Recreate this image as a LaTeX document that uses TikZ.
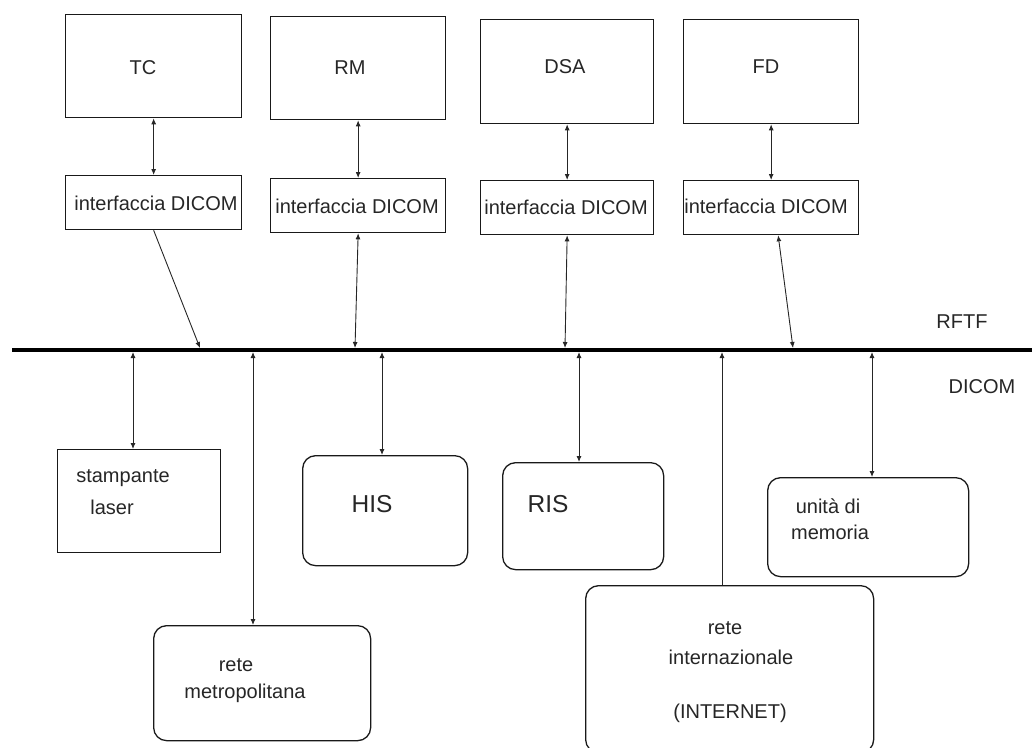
\documentclass[tikz,border=0pt]{standalone}
\usepackage{fontspec}
\setmainfont{Liberation Sans}
\usetikzlibrary{arrows.meta}
\begin{document}
\begin{tikzpicture}[x=1pt,y=-1pt,
  box/.style={draw=black!90, line width=1.3pt, inner sep=0pt, anchor=north west},
  rbox/.style={box, rounded corners=13pt},
  lbl/.style={inner sep=0pt, text=black!85, font=\fontsize{20}{24}\selectfont},
  big/.style={lbl, font=\fontsize{24.5}{29}\selectfont},
  link/.style={draw=black!85, line width=0.9pt},
  biarr/.style={link, {Latex[length=6pt,width=5pt]}-{Latex[length=6pt,width=5pt]}},
  toarr/.style={link, -{Latex[length=6pt,width=5pt]}},
  fromarr/.style={link, {Latex[length=6pt,width=5pt]}-}]
\useasboundingbox (0,0) rectangle (1032,747);
\clip (0,0) rectangle (1032,747);

% modalities
\node[box, minimum width=176pt, minimum height=103pt] (tc)  at (65,14) {};
\node[box, minimum width=175pt, minimum height=103pt] (rm)  at (270,16) {};
\node[box, minimum width=173pt, minimum height=104pt] (dsa) at (480,19) {};
\node[box, minimum width=175pt, minimum height=104pt] (fd)  at (683,19) {};
\node[lbl] (tct)  at (143,68) {TC};
\node[lbl] (rmt)  at (350,68) {RM};
\node[lbl] (dsat) at (565,67) {DSA};
\node[lbl] (fdt)  at (766,67) {FD};

% DICOM interfaces
\node[box, minimum width=176pt, minimum height=54pt] (tci)  at (65,175) {};
\node[box, minimum width=175pt, minimum height=54pt] (rmi)  at (270,178) {};
\node[box, minimum width=173pt, minimum height=54pt] (dsai) at (480,180) {};
\node[box, minimum width=175pt, minimum height=54pt] (fdi)  at (683,180) {};
\node[lbl] (tcit)  at (156,203) {interfaccia DICOM};
\node[lbl] (rmit)  at (357,206) {interfaccia DICOM};
\node[lbl] (dsait) at (566,207) {interfaccia DICOM};
\node[lbl] (fdit)  at (766,206) {interfaccia DICOM};

% devices on the network
\node[box,  minimum width=163pt, minimum height=103pt] (stamp) at (57,449) {};
\node[rbox, minimum width=165pt, minimum height=110pt] (his)   at (302,455) {};
\node[rbox, minimum width=161pt, minimum height=107pt] (ris)   at (502,462) {};
\node[rbox, minimum width=201pt, minimum height=99pt]  (mem)   at (767,477) {};
\node[rbox, minimum width=217pt, minimum height=115pt] (metro) at (153,625) {};
\node[rbox, minimum width=288pt, minimum height=167pt] (inet)  at (585,585) {};
\node[lbl] (stampt1) at (123,478) {stampante};
\node[lbl] (stampt2) at (112,507) {laser};
\node[big] (hist) at (372,504) {HIS};
\node[big] (rist) at (548,504) {RIS};
\node[lbl] (memt1) at (828,506) {unità di};
\node[lbl] (memt2) at (830,532) {memoria};
\node[lbl] (metrot1) at (236,665) {rete};
\node[lbl] (metrot2) at (245,693) {metropolitana};
\node[lbl] (inett1) at (725,628) {rete};
\node[lbl] (inett2) at (731,657) {internazionale};
\node[lbl] (inett3) at (730,713) {(INTERNET)};

% network bus
\coordinate (busL) at (12,350);
\coordinate (busR) at (1032,350);
\draw[line width=4pt] (busL) -- (busR);
\node[lbl] (rftf)  at (962,322) {RFTF};
\node[lbl] (dicom) at (982,387) {DICOM};

% taps on the bus, upper side
\coordinate (bTC)  at (200,348);
\coordinate (bRM)  at (355,348);
\coordinate (bDSA) at (565,348);
\coordinate (bFD)  at (793,348);
% taps on the bus, lower side
\coordinate (bST) at (133,352);
\coordinate (bME) at (253,352);
\coordinate (bHI) at (382,352);
\coordinate (bRI) at (579,352);
\coordinate (bIN) at (722,352);
\coordinate (bMM) at (872,352);

% modality <-> interface
\draw[biarr] (tc.south)  -- (tci.north);
\draw[biarr] (rm.south)  -- (rmi.north);
\draw[biarr] (dsa.south) -- (dsai.north);
\draw[biarr] (fd.south)  -- (fdi.north);

% interface <-> bus
\draw[toarr] (tci.south) -- (bTC);
\draw[biarr] (rmi.south) -- (bRM);
\draw[biarr] (dsai.south) -- (bDSA);
\draw[biarr] ([xshift=7pt]fdi.south) -- (bFD);

% bus <-> devices
\draw[biarr] (bST) -- (bST |- stamp.north);
\draw[biarr] (bME) -- (bME |- metro.north);
\draw[biarr] (bHI) -- (bHI |- his.north);
\draw[biarr] (bRI) -- (bRI |- ris.north);
\draw[fromarr] (bIN) -- (bIN |- inet.north);
\draw[biarr] (bMM) -- (bMM |- mem.north);
\end{tikzpicture}
\end{document}
